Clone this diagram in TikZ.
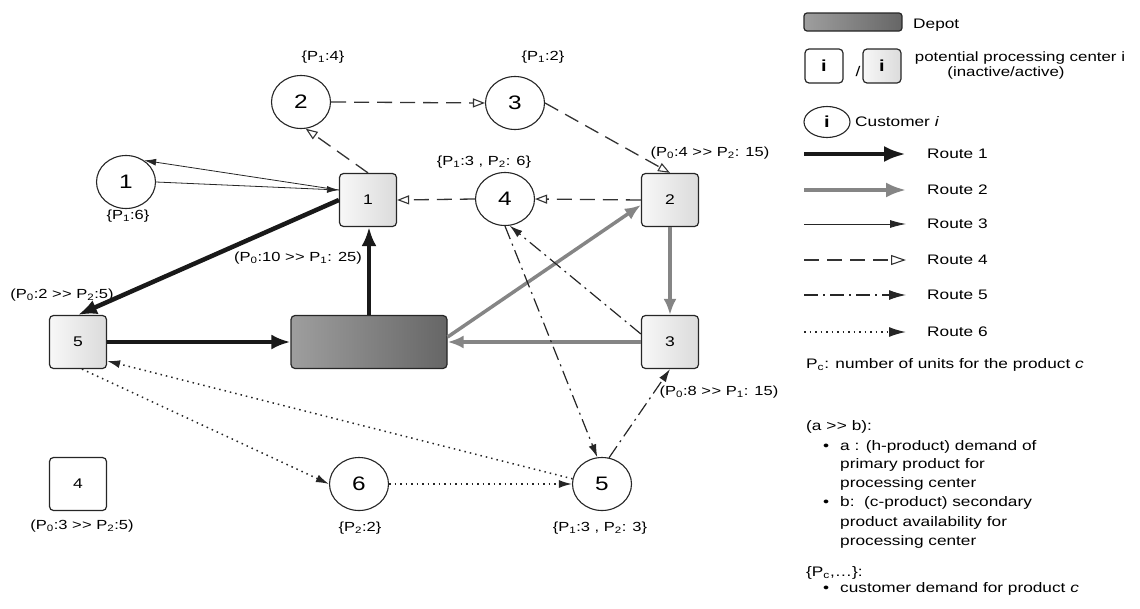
\documentclass[tikz,border=0pt]{standalone}
\usepackage{fontspec}
\setmainfont[FakeStretch=1.25]{Liberation Sans}
\usetikzlibrary{arrows.meta,shapes.geometric}
\newcommand{\myfs}[1]{\fontsize{#1}{#1}\selectfont}
\newcommand{\gtgt}{\mbox{>}\kern0.5pt\mbox{>}}
\begin{document}
\begin{tikzpicture}[x=1pt,y=-1pt,
  cust/.style={ellipse,draw=black!85,line width=1.1pt,minimum width=59pt,minimum height=53pt,inner sep=0pt,fill=white,font=\myfs{19.5}},
  pcbox/.style={rectangle,rounded corners=4pt,draw=black!85,line width=1.2pt,minimum width=57pt,minimum height=53pt,inner sep=0pt,font=\myfs{14}},
  pcact/.style={pcbox,left color=black!3,right color=black!14},
  pcin/.style={pcbox,fill=white},
  depot/.style={rectangle,rounded corners=4pt,draw=black!85,line width=1.2pt,minimum width=156pt,minimum height=53pt,left color=black!38,right color=black!60},
  lbl/.style={font=\myfs{13.2},inner sep=0pt},
  leg/.style={font=\myfs{13.8},inner sep=0pt,anchor=west},
  rA/.style={line width=4.5pt,black!90,-{Latex[length=19pt,width=15pt]}},
  rB/.style={line width=3.5pt,black!48,-{Latex[length=16pt,width=13pt]}},
  rC/.style={line width=0.8pt,black!85,-{Latex[length=12pt,width=7pt]}},
  rD/.style={line width=1.3pt,black!80,dash pattern=on 15pt off 8pt,-{Triangle[open,length=12pt,width=9pt,line width=1.1pt]}},
  rE/.style={line width=1.2pt,black!85,dash pattern=on 14pt off 5pt on 2pt off 5pt,-{Latex[length=13pt,width=8pt]}},
  rF/.style={line width=1.5pt,black!85,dash pattern=on 1.5pt off 4pt,-{Latex[length=13pt,width=8pt]}}
]
\useasboundingbox (0,0) rectangle (1140,608);

% nodes
\node[cust] (c1) at (126,182) {1};
\node[cust] (c2) at (301,102) {2};
\node[cust] (c3) at (515,103) {3};
\node[cust] (c4) at (505,199) {4};
\node[cust] (c5) at (602,484) {5};
\node[cust] (c6) at (359,484) {6};
\node[pcact] (p1) at (368,200) {1};
\node[pcact] (p2) at (670,200) {2};
\node[pcact] (p3) at (670,342) {3};
\node[pcin] (p4) at (78,484) {4};
\node[pcact] (p5) at (78,342) {5};
\node[depot] (d) at (369,342) {};

% labels
\node[lbl] (l1) at (128,216) {\{P\textsubscript{1}:6\}};
\node[lbl] (l2) at (323,57) {\{P\textsubscript{1}:4\}};
\node[lbl] (l3) at (543,57) {\{P\textsubscript{1}:2\}};
\node[lbl] (l4) at (484,162) {\{P\textsubscript{1}:3 , P\textsubscript{2}: 6\}};
\node[lbl] (l5) at (600,528) {\{P\textsubscript{1}:3 , P\textsubscript{2}: 3\}};
\node[lbl] (l6) at (360,528) {\{P\textsubscript{2}:2\}};
\node[lbl] (lp1) at (298,258) {(P\textsubscript{0}:10 \gtgt{} P\textsubscript{1}: 25)};
\node[lbl] (lp2) at (710,153) {(P\textsubscript{0}:4 \gtgt{} P\textsubscript{2}: 15)};
\node[lbl] (lp3) at (719,392) {(P\textsubscript{0}:8 \gtgt{} P\textsubscript{1}: 15)};
\node[lbl] (lp4) at (82,526) {(P\textsubscript{0}:3 \gtgt{} P\textsubscript{2}:5)};
\node[lbl] (lp5) at (62,295) {(P\textsubscript{0}:2 \gtgt{} P\textsubscript{2}:5)};

% Route 1
\draw[rA] (d.north) -- (d.north |- p1.south);
\draw[rA] (p1.west) -- (p5.north);
\draw[rA] (p5.east) -- (d.west);
% Route 2
\draw[rB] ([yshift=5pt]d.east) -- ([yshift=-5pt]p2.west);
\draw[rB] (p2.south) -- (p3.north);
\draw[rB] (p3.west) -- (d.east);
% Route 3
\draw[rC] ([yshift=10pt]p1.west) -- (c1.50);
\draw[rC] (c1.east) -- ([yshift=10pt]p1.west);
% Route 4
\draw[rD] (p1.north) -- (c2.-80);
\draw[rD] (c2.east) -- (c3.west);
\draw[rD] (c3.east) -- (p2.north);
\draw[rD] (p2.west) -- (c4.east);
\draw[rD] (c4.west) -- (p1.east);
% Route 5
\draw[rE] ([yshift=8pt]p3.west) -- (c4.-80);
\draw[rE] (c4.south) -- (c5.100);
\draw[rE] (c5.75) -- (p3.south);
% Route 6
\draw[rF] ([xshift=4pt]p5.south) -- (c6.west);
\draw[rF] (c6.east) -- (c5.west);
\draw[rF] (c5.170) -- (p5.-33);

% legend
\node[depot,minimum width=98pt,minimum height=18pt,rounded corners=3pt] (ld) at (853,22) {};
\node[leg] (ldt) at (913,25) {Depot};
\node[pcin,minimum width=38pt,minimum height=34pt,font=\myfs{16}\bfseries] (li1) at (824,66) {i};
\node[font=\myfs{14},inner sep=0pt] (lsl) at (858,71) {/};
\node[pcact,minimum width=38pt,minimum height=34pt,font=\myfs{16}\bfseries] (li2) at (882,66) {i};
\node[font=\myfs{13.5},inner sep=0pt] (lpt) at (1020,58) {potential processing center i};
\node[font=\myfs{13.5},inner sep=0pt] (lia) at (1006,73) {(inactive/active)};
\node[cust,minimum width=46pt,minimum height=31pt,font=\myfs{16}\bfseries] (lc) at (827,122) {i};
\node[leg] (lct) at (855,122) {Customer \textit{i}};

\foreach \n/\yy in {1/154,2/190,3/224,4/260,5/295,6/332}{
  \coordinate (ls\n) at (804,\yy);
  \coordinate (le\n) at (906,\yy);
  \node[leg] (lt\n) at (927,\yy) {Route \n};
}
\draw[rA,-{Latex[length=22pt,width=16pt]}] (ls1) -- (le1);
\draw[rB,-{Latex[length=20pt,width=15pt]}] (ls2) -- (le2);
\draw[rC,-{Latex[length=16pt,width=8pt]}] (ls3) -- (le3);
\draw[rD,-{Triangle[open,length=15pt,width=10pt,line width=1.1pt]}] (ls4) -- (le4);
\draw[rE,-{Latex[length=17pt,width=10pt]}] (ls5) -- (le5);
\draw[rF,-{Latex[length=17pt,width=10pt]}] (ls6) -- (le6);

\node[leg] (lpc) at (806,365) {P\textsubscript{c}: number of units for the product \textit{c}};
\node[leg] (lab) at (806,427) {(a \gtgt{} b):};
\node[leg] (bu1) at (823,447) {\textbullet};
\node[leg] (ta1) at (840,447) {a : (h-product) demand of};
\node[leg] (ta2) at (840,465) {primary product for};
\node[leg] (ta3) at (840,484) {processing center};
\node[leg] (bu2) at (823,503) {\textbullet};
\node[leg] (tb1) at (840,503) {b:\ \ (c-product) secondary};
\node[leg] (tb2) at (840,523) {product availability for};
\node[leg] (tb3) at (840,542) {processing center};
\node[leg] (lpcs) at (806,573) {\{P\textsubscript{c},\dots\}:};
\node[leg] (bu3) at (823,589) {\textbullet};
\node[leg] (tc1) at (840,589) {customer demand for product \textit{c}};
\end{tikzpicture}
\end{document}
